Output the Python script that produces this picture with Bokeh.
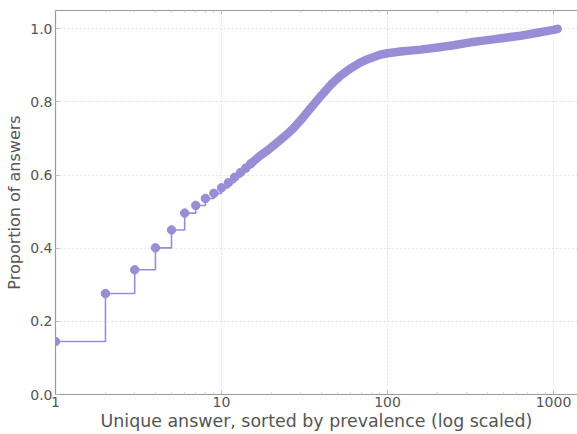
from bokeh.plotting import figure
from bokeh.models import Range1d, FixedTicker, PrintfTickFormatter, LogAxis, ColumnDataSource
from bokeh.embed import file_html
from bokeh.resources import INLINE

# Rank of unique answer (sorted by prevalence) and cumulative proportion of answers
ranks = [1, 2, 3, 4, 5, 6, 7, 8, 9, 10, 11, 12, 13, 14, 15,
         17, 19, 21, 24, 27, 30, 34, 40, 46, 52, 60, 68, 76, 90, 100,
         120, 158, 200, 250, 316, 400, 500, 633, 800, 1000, 1060]
proportions = [0.145, 0.276, 0.341, 0.401, 0.450, 0.496, 0.517, 0.536, 0.550, 0.565,
               0.579, 0.594, 0.607, 0.619, 0.631,
               0.652, 0.668, 0.684, 0.706, 0.727, 0.750, 0.780, 0.818, 0.849, 0.871,
               0.892, 0.907, 0.917, 0.929, 0.933,
               0.938, 0.943, 0.949, 0.955, 0.963, 0.969, 0.975, 0.981, 0.989, 0.997, 1.000]
x_ticks = [1, 10, 100, 1000]
y_ticks = [0.0, 0.2, 0.4, 0.6, 0.8, 1.0]
dense_from = 14  # index from which markers merge into a continuous band

COLOR = "#988ED5"
TEXT = "#555555"
FONT = "DejaVu Sans"

sparse = ColumnDataSource(dict(x=ranks[:dense_from + 1], y=proportions[:dense_from + 1]))
dense = ColumnDataSource(dict(x=ranks[dense_from:], y=proportions[dense_from:]))

p = figure(width=577, height=434, x_axis_type="log",
           x_range=Range1d(1, 1395), y_range=Range1d(0, 1.05),
           output_backend="svg", toolbar_location=None,
           min_border_left=55, min_border_right=0, min_border_top=10, min_border_bottom=40)
p.background_fill_color = "white"
p.border_fill_color = "white"
p.outline_line_color = None

p.step("x", "y", source=sparse, mode="after", line_color=COLOR, line_width=1.6)
p.line("x", "y", source=dense, line_color=COLOR, line_width=8.5,
       line_cap="round", line_join="round")
p.scatter("x", "y", source=sparse, size=8.5, fill_color=COLOR, line_color=COLOR)

minor = []
for d in [1, 10, 100, 1000]:
    for k in range(2, 10):
        if d * k < 1395:
            minor.append(d * k)

p.xaxis.ticker = FixedTicker(ticks=x_ticks, minor_ticks=minor)
p.xaxis.formatter = PrintfTickFormatter(format="%d")
p.yaxis.ticker = FixedTicker(ticks=y_ticks)
p.yaxis.formatter = PrintfTickFormatter(format="%.1f")

p.xaxis.axis_label = "Unique answer, sorted by prevalence (log scaled)"
p.yaxis.axis_label = "Proportion of answers"

for ax in [p.xaxis[0], p.yaxis[0]]:
    ax.axis_line_color = "#9a9a9a"
    ax.axis_line_width = 1.2
    ax.major_tick_line_color = "#bbbbbb"
    ax.major_tick_in = 4
    ax.major_tick_out = 0
    ax.minor_tick_line_color = "#d0d0d0"
    ax.minor_tick_in = 2
    ax.minor_tick_out = 0
    ax.major_label_text_font = FONT
    ax.major_label_text_font_size = "14px"
    ax.major_label_text_color = TEXT
    ax.axis_label_text_font = FONT
    ax.axis_label_text_font_style = "normal"
    ax.axis_label_text_color = TEXT

p.xaxis.axis_label_text_font_size = "17.4px"
p.yaxis.axis_label_text_font_size = "16px"
p.xaxis.major_label_standoff = 2
p.xaxis.axis_label_standoff = 1
p.yaxis.major_label_standoff = 3
p.yaxis.axis_label_standoff = 3
p.yaxis.minor_tick_line_color = None

top = LogAxis(ticker=FixedTicker(ticks=x_ticks, minor_ticks=minor))
top.axis_line_color = "#9a9a9a"
top.axis_line_width = 1.2
top.major_tick_line_color = "#bbbbbb"
top.major_tick_in = 4
top.major_tick_out = 0
top.minor_tick_line_color = "#d0d0d0"
top.minor_tick_in = 2
top.minor_tick_out = 0
top.major_label_text_font_size = "1px"
top.major_label_text_alpha = 0
top.major_label_standoff = 0
p.add_layout(top, "above")

for g in [p.xgrid[0], p.ygrid[0]]:
    g.grid_line_color = "#e2e2e2"
    g.grid_line_dash = "2 2"
    g.grid_line_width = 1
p.xgrid.ticker = FixedTicker(ticks=x_ticks)
p.ygrid.ticker = FixedTicker(ticks=y_ticks)

open("out.html", "w").write(file_html(p, INLINE))
